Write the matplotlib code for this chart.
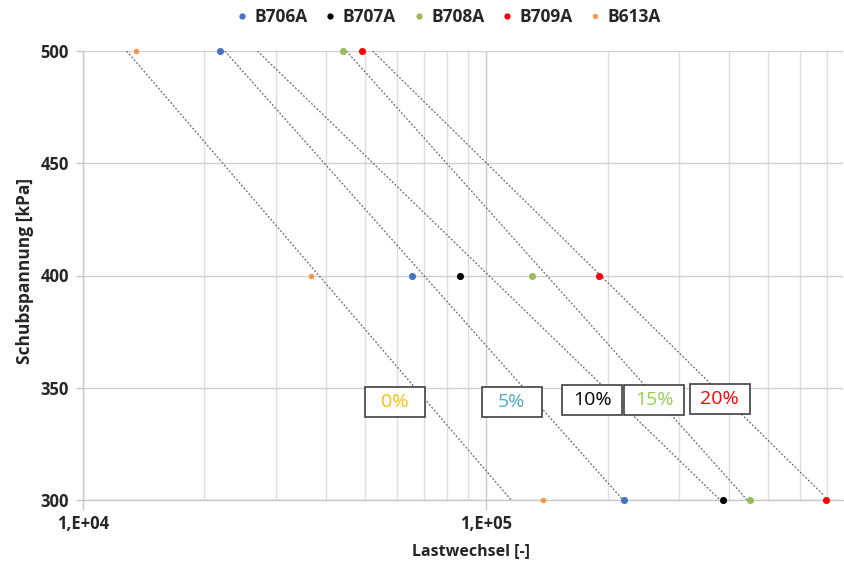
import numpy as np
import matplotlib.pyplot as plt
import matplotlib.transforms as mtransforms
from matplotlib.lines import Line2D
from matplotlib.patches import Rectangle

plt.rcParams['font.family'] = ['Open Sans', 'DejaVu Sans']

# measured points (Lastwechsel at each Schubspannung level)
stress = [500, 400, 300]
series_names = ['B706A', 'B707A', 'B708A', 'B709A', 'B613A']
series_colors = ['#4472C4', '#000000', '#9BBB59', '#FF0000', '#F79646']
b706a = [21900, 65500, 219000]
b707a = [np.nan, 86200, 384600]
b708a = [44000, 129900, 450200]
b709a = [49200, 189700, 693600]
b613a = [13540, 36800, 137900]
series_values = [b706a, b707a, b708a, b709a, b613a]

# trend lines (start at 500 kPa, end near 300 kPa)
trend_x_start = [12830, 22460, 27060, 44950, 52220]
trend_x_end = [115100, 218000, 379500, 442800, 686500]
trend_y_end = [300, 300, 300, 300, 302]

# percentage labels
label_texts = ['0%', '5%', '10%', '15%', '20%']
label_colors = ['#FFC000', '#4BACC6', '#000000', '#92D050', '#FF0000']
label_x = [59200, 115600, 182800, 260600, 378500]
label_y = [343.6, 343.6, 344.5, 344.5, 345.0]

fig = plt.figure(figsize=(8.45, 5.64), dpi=100)
ax = fig.add_axes([83 / 845, 1 - 500 / 564, 760 / 845, 449 / 564])
ax.set_xscale('log')
ax.set_xlim(1e4, 7.65e5)
ax.set_ylim(300, 500)

# grid
ax.set_yticks([300, 350, 400, 450, 500])
ax.set_xticks([1e4, 1e5])
ax.set_xticklabels(['1,E+04', '1,E+05'])
ax.xaxis.set_minor_locator(plt.matplotlib.ticker.LogLocator(base=10, subs=np.arange(2, 10)))
ax.xaxis.set_minor_formatter(plt.NullFormatter())
ax.grid(True, which='major', axis='y', color='#D0D0D0', lw=1.0)
ax.grid(True, which='major', axis='x', color='#C8C8C8', lw=1.0)
ax.grid(True, which='minor', axis='x', color='#DEDEDE', lw=1.0)
ax.tick_params(axis='x', which='minor', length=0)
ax.tick_params(axis='x', which='major', length=7, color='#C8C8C8', width=1.0, pad=4)
ax.tick_params(axis='y', length=5, color='#C8C8C8', width=1.0, pad=5)
for s in ['top', 'right']:
    ax.spines[s].set_visible(False)
for s in ['left', 'bottom']:
    ax.spines[s].set_color('#C8C8C8')
    ax.spines[s].set_linewidth(1.0)
for lab in ax.get_xticklabels() + ax.get_yticklabels():
    lab.set_fontweight('bold')
    lab.set_fontsize(12)
    lab.set_color('#262626')
ax.set_axisbelow(True)

# trend lines
for x0, x1, y1 in zip(trend_x_start, trend_x_end, trend_y_end):
    ax.plot([x0, x1], [500, y1], color='#666666', lw=0.9, ls=(0, (1.5, 1.5)), zorder=2)

# data points
for name, vals, col in zip(series_names, series_values, series_colors):
    size = 16 if name == 'B613A' else 26
    ax.scatter(vals, stress, s=size, color=col, zorder=4, clip_on=False, linewidths=0)

# label boxes
for txt, col, lx, ly in zip(label_texts, label_colors, label_x, label_y):
    trans = fig.dpi_scale_trans + mtransforms.ScaledTranslation(lx, ly, ax.transData)
    ax.add_patch(Rectangle((-0.3, -0.15), 0.6, 0.3, transform=trans, facecolor='white',
                           edgecolor='#404040', lw=1.2, zorder=5, clip_on=False))
    ax.text(lx, ly, txt, color=col, fontsize=14, ha='center', va='center', zorder=6)

# axis titles
fig.text(471 / 845, 1 - 551 / 564, 'Lastwechsel [-]', ha='center', va='center',
         fontsize=11.5, fontweight='bold', color='#262626')
fig.text(25 / 845, 1 - 271 / 564, 'Schubspannung [kPa]', ha='center', va='center',
         rotation=90, fontsize=12.5, fontweight='bold', color='#262626')

# legend
handles = [Line2D([], [], ls='none', marker='o', markersize=4.5 if n != 'B613A' else 3.8,
                  color=c, markeredgewidth=0) for n, c in zip(series_names, series_colors)]
leg = fig.legend(handles, series_names, loc='center', bbox_to_anchor=(449 / 845, 1 - 17 / 564),
                 ncol=5, frameon=False, handlelength=0.6, handletextpad=0.42, columnspacing=1.0,
                 borderpad=0, prop={'weight': 'bold', 'size': 12.5})
for t in leg.get_texts():
    t.set_color('#262626')

fig.savefig('out.png', dpi=100)
